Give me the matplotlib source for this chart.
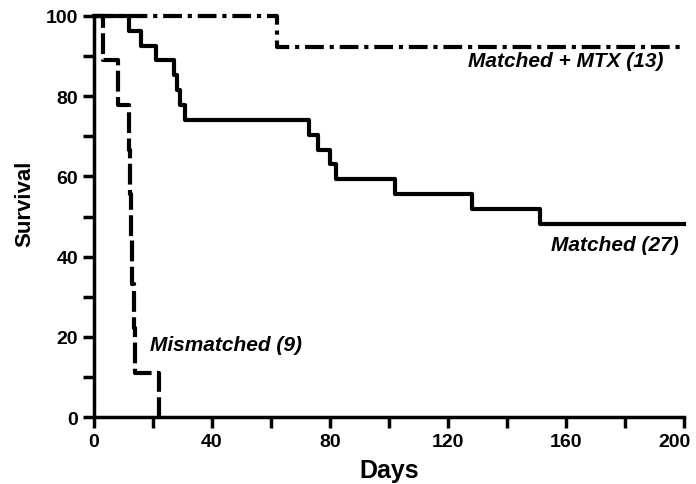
import matplotlib
matplotlib.use("Agg")
import matplotlib.pyplot as plt
import matplotlib.transforms as mtrans
import numpy as np

plt.rcParams['font.family'] = ['Liberation Sans', 'DejaVu Sans']

# Kaplan-Meier step data (event times in days, survival % after event)
mtx_times = [0, 62, 200]
mtx_surv = [100, 92.3, 92.3]

matched_times = [0, 12, 16, 21, 27, 28, 29, 31, 73, 76, 80, 82, 102, 128, 151, 200]
matched_surv = [100, 96.3, 92.6, 88.9, 85.2, 81.5, 77.8, 74.1, 70.4, 66.7, 63.0, 59.3,
                55.6, 51.9, 48.1, 48.1]

mism_times = [0, 3, 8, 12, 12.3, 12.6, 13, 13.5, 14, 22]
mism_surv = [100, 88.9, 77.8, 66.7, 55.6, 44.4, 33.3, 22.2, 11.1, 0]

x_ticks = [0, 40, 80, 120, 160, 200]
y_ticks = [0, 20, 40, 60, 80, 100]

fig = plt.figure(figsize=(6.96, 4.85), dpi=100)
ax = fig.add_axes([0.135, 0.138, 0.848, 0.827])

lw = 3.0
ax.step(mtx_times, mtx_surv, where='post', color='black', lw=lw,
        dashes=(4.5, 1.4, 1.0, 1.4), clip_on=False)
ax.step(matched_times, matched_surv, where='post', color='black', lw=lw, clip_on=False)
ax.step(mism_times, mism_surv, where='post', color='black', lw=lw,
        dashes=(5, 1.3), clip_on=False)

ax.set_xlim(0, 200)
ax.set_ylim(0, 100)
ax.spines['top'].set_visible(False)
ax.spines['right'].set_visible(False)
for s in ['left', 'bottom']:
    ax.spines[s].set_linewidth(2.5)

ax.set_xticks(x_ticks)
ax.set_xticks(np.arange(20, 200, 40), minor=True)
ax.set_yticks(y_ticks)
ax.set_yticks(np.arange(10, 100, 20), minor=True)
ax.tick_params(which='both', direction='out', length=8, width=2.5)
for lab in ax.get_xticklabels() + ax.get_yticklabels():
    lab.set_fontweight('bold')
    lab.set_fontsize(14)
last = ax.get_xticklabels()[-1]
last.set_transform(last.get_transform() +
                   mtrans.ScaledTranslation(-10 / 100, 0, fig.dpi_scale_trans))

ax.set_xlabel('Days', fontsize=18, fontweight='bold', labelpad=6)
ax.set_ylabel('Survival', fontsize=16, fontweight='bold')
ax.yaxis.set_label_coords(-0.10, 0.534)

tkw = dict(fontsize=15, fontweight='bold', fontstyle='italic')
ax.text(193, 88.8, 'Matched + MTX (13)', ha='right', va='center', **tkw)
ax.text(198, 43, 'Matched (27)', ha='right', va='center', **tkw)
ax.text(19, 18.2, 'Mismatched (9)', ha='left', va='center', **tkw)

fig.savefig('out.png', dpi=100)
